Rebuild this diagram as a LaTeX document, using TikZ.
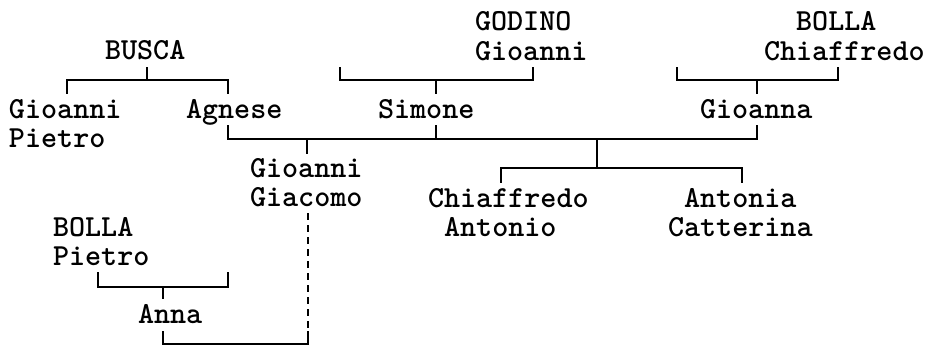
\documentclass[tikz,border=0pt]{standalone}
\usepackage{fontspec}
\begin{document}
\begin{tikzpicture}[x=1pt,y=-1pt,
  person/.style={anchor=base west,inner sep=0pt,outer sep=0pt,align=left,
    font=\fontsize{30.6}{29.5}\selectfont\ttfamily\bfseries},
  link/.style={line width=1.8pt,line cap=rect,line join=miter},
  dlink/.style={line width=1.8pt,dash pattern=on 7pt off 5pt}]
\useasboundingbox (0,0) rectangle (927,345);
\fill[white] (0,0) rectangle (927,345);
% persons (base anchor = baseline of the last line)
\node[person] (busca)   at (105,60)  {BUSCA};
\node[person] (godino)  at (475,60.5)  {GODINO\\Gioanni};
\node[person] (bollaC)  at (764,60.5)  {\phantom{Ch}BOLLA\\Chiaffredo};
\node[person] (gpietro) at (9,147.5)   {Gioanni\\Pietro};
\node[person] (agnese)  at (186,118) {Agnese};
\node[person] (simone)  at (378,118) {Simone};
\node[person] (gioanna) at (700,118) {Gioanna};
\node[person] (ggiac)   at (250,206.5) {Gioanni\\Giacomo};
\node[person] (chiaff)  at (428,236.5) {Chiaffredo\\\phantom{C}Antonio};
\node[person] (antonia) at (668,236.5) {\phantom{C}Antonia\\Catterina};
\node[person] (bollaP)  at (53,265.5)  {BOLLA\\Pietro};
\node[person] (anna)    at (138,323) {Anna};
% junction coordinates
\coordinate (j1) at (147,80);
\coordinate (j2) at (436,80);
\coordinate (j3) at (757,80);
\coordinate (j4) at (307,139);
\coordinate (j5) at (597,139);
\coordinate (j6) at (597,168);
\coordinate (j7) at (163,287);
\coordinate (j8) at (163,344);
% BUSCA -> Gioanni Pietro, Agnese
\draw[link] (147,68) -- (j1);
\draw[link] (67,93) -- (67,80) -- (228,80) -- (228,93);
% GODINO Gioanni -> Simone
\draw[link] (340,68) -- (340,80) -- (533,80) -- (533,68);
\draw[link] (j2) -- (436,93);
% BOLLA Chiaffredo -> Gioanna
\draw[link] (677,68) -- (677,80) -- (838,80) -- (838,68);
\draw[link] (j3) -- (757,93);
% Agnese + Simone + Gioanna
\draw[link] (228,126) -- (228,139) -- (757,139) -- (757,126);
\draw[link] (436,126) -- (436,139);
\draw[link] (j4) -- (307,153);
\draw[link] (j5) -- (j6);
% children
\draw[link] (501,182) -- (501,168) -- (742,168) -- (742,182);
% BOLLA Pietro -> Anna
\draw[link] (98,273) -- (98,287) -- (228,287) -- (228,273);
\draw[link] (j7) -- (163,298);
% Anna -- Gioanni Giacomo
\draw[link] (163,332) -- (j8) -- (308,344) -- (308,332);
\draw[dlink] (308,213) -- (308,332);
\end{tikzpicture}
\end{document}
